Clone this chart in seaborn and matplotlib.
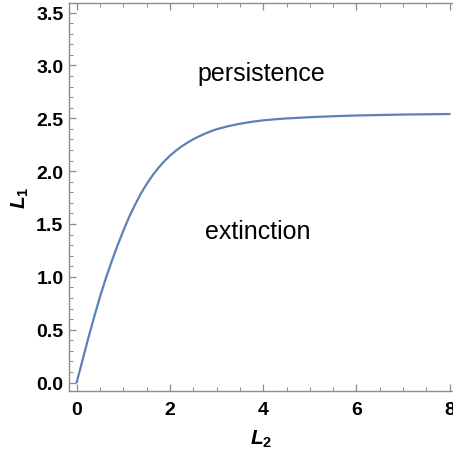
import matplotlib
matplotlib.use("Agg")
import matplotlib.pyplot as plt
from matplotlib.ticker import MultipleLocator
import seaborn as sns
import pandas as pd

# boundary curve
L2 = [0, 0.125, 0.25, 0.375, 0.5, 0.625, 0.75, 0.875, 1.0, 1.125, 1.25, 1.375,
      1.5, 1.625, 1.75, 1.875, 2.0, 2.125, 2.25, 2.375, 2.5, 2.625, 2.75, 2.875,
      3.0, 3.25, 3.5, 3.75, 4.0, 4.25, 4.5, 5.0, 5.5, 6.0, 7.0, 8.0]
L1 = [0, 0.21, 0.42, 0.62, 0.81, 0.985, 1.145, 1.295, 1.435, 1.565, 1.68, 1.785,
      1.877, 1.958, 2.029, 2.091, 2.145, 2.192, 2.233, 2.269, 2.301, 2.329, 2.354,
      2.376, 2.396, 2.425, 2.448, 2.466, 2.48, 2.49, 2.498, 2.51, 2.519, 2.526,
      2.535, 2.54]

regions = ["persistence", "extinction"]
region_pos = [(3.97, 2.93), (3.89, 1.43)]

sns.set_style("ticks")
plt.rcParams["font.family"] = ["Liberation Sans", "DejaVu Sans"]
plt.rcParams["mathtext.fontset"] = "custom"
plt.rcParams["mathtext.rm"] = "Liberation Sans"
plt.rcParams["mathtext.bf"] = "Liberation Sans:bold"
plt.rcParams["mathtext.it"] = "Liberation Sans:italic"
plt.rcParams["mathtext.bfit"] = "Liberation Sans:bold:italic"

df = pd.DataFrame({"L2": L2, "L1": L1})

fig = plt.figure(figsize=(4.53, 4.56), dpi=100)
ax = fig.add_axes([69 / 453, 64 / 456, 1 - 69 / 453, (392 - 4) / 456])

sns.lineplot(data=df, x="L2", y="L1", ax=ax, color="#5E81B5", linewidth=1.6)

ax.set_xlim(-0.164, 8.07)
ax.set_ylim(-0.08, 3.59)

ax.xaxis.set_major_locator(MultipleLocator(2))
ax.xaxis.set_minor_locator(MultipleLocator(0.5))
ax.yaxis.set_major_locator(MultipleLocator(0.5))
ax.yaxis.set_minor_locator(MultipleLocator(0.1))

frame = "#8c8c8c"
for side in ["left", "bottom", "top"]:
    ax.spines[side].set_color(frame)
    ax.spines[side].set_linewidth(1.0)
ax.spines["right"].set_visible(False)

ax.tick_params(which="both", direction="in", color=frame, top=True, right=False,
               labeltop=False, labelcolor="black")
ax.tick_params(which="major", length=5, width=0.9)
ax.tick_params(which="minor", length=3, width=0.7)
ax.tick_params(axis="x", pad=7)
ax.tick_params(axis="y", pad=4)
ax.set_xticks([0, 2, 4, 6, 8])
ax.set_xticklabels(["0", "2", "4", "6", "8"], fontweight="bold", fontsize=14)
ax.set_yticks([0, 0.5, 1.0, 1.5, 2.0, 2.5, 3.0, 3.5])
ax.set_yticklabels(["0.0", "0.5", "1.0", "1.5", "2.0", "2.5", "3.0", "3.5"],
                   fontweight="bold", fontsize=14)

ax.set_xlabel(r"$\mathbfit{L}_\mathbf{2}$", fontsize=15, labelpad=7, color="black")
ax.set_ylabel(r"$\mathbfit{L}_\mathbf{1}$", fontsize=15, labelpad=4, color="black")

for name, (x, y) in zip(regions, region_pos):
    ax.text(x, y, name, fontsize=18, ha="center", va="center", color="black")

fig.savefig("out.png", dpi=100)
